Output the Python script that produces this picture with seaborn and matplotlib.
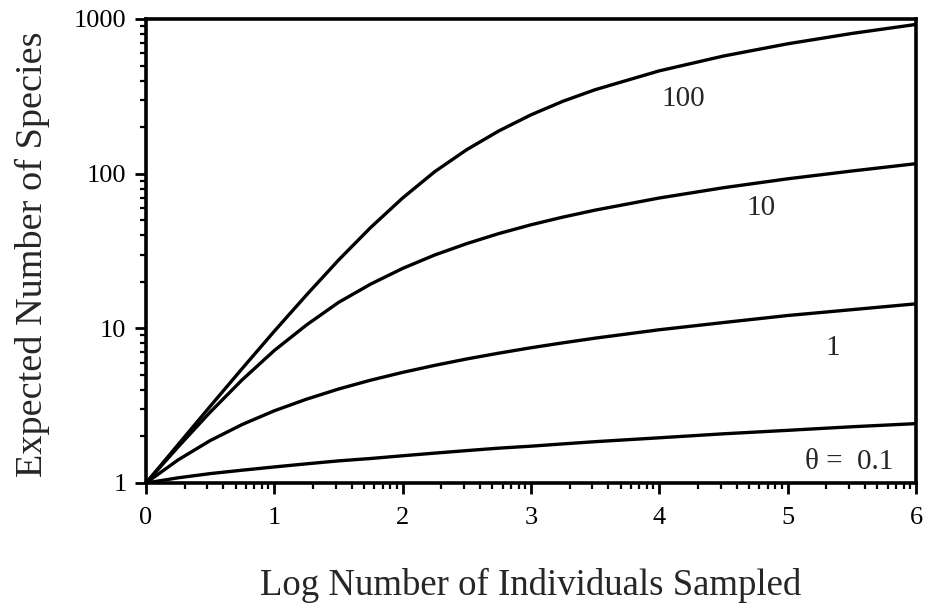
import numpy as np
import pandas as pd
import seaborn as sns
import matplotlib.pyplot as plt
from matplotlib.ticker import FixedLocator, FixedFormatter, LogLocator, NullFormatter

# values (x = log10 of individuals sampled)
log_n = [0, 0.25, 0.5, 0.75, 1, 1.25, 1.5, 1.75, 2, 2.25, 2.5, 2.75, 3, 3.25, 3.5,
         4, 4.5, 5, 5.5, 6]
theta_01 = [1.0, 1.08, 1.15, 1.21, 1.27, 1.33, 1.39, 1.44, 1.50, 1.56, 1.62, 1.68, 1.73,
            1.79, 1.85, 1.96, 2.08, 2.19, 2.31, 2.42]
theta_1 = [1.0, 1.41, 1.88, 2.39, 2.93, 3.48, 4.05, 4.62, 5.19, 5.76, 6.34, 6.91, 7.49,
           8.06, 8.64, 9.79, 10.9, 12.1, 13.2, 14.4]
theta_10 = [1.0, 1.71, 2.87, 4.65, 7.19, 10.5, 14.7, 19.3, 24.4, 29.8, 35.3, 41.0, 46.7,
            52.4, 58.1, 69.6, 81.1, 92.6, 104, 116]
theta_100 = [1.0, 1.77, 3.13, 5.50, 9.58, 16.4, 27.6, 44.8, 69.6, 103, 143, 189, 240,
             294, 349, 462, 576, 691, 806, 922]

theta_labels = ["0.1", "1", "10", "100"]
curve_labels = ["θ =  0.1", "1", "10", "100"]
label_pos = [(5.48, 1.37), (5.35, 7.46), (4.79, 60), (4.19, 303)]

series = [theta_01, theta_1, theta_10, theta_100]
df = pd.concat([pd.DataFrame({"x": log_n, "S": s, "theta": t})
                for s, t in zip(series, theta_labels)])

sns.set_style("ticks")
plt.rcParams["font.family"] = ["Liberation Serif", "DejaVu Serif"]

fig = plt.figure(figsize=(9.31, 6.08), dpi=100)
ax = fig.add_axes([0.1568, 0.2056, 0.8271, 0.7632])

sns.lineplot(data=df, x="x", y="S", hue="theta", palette=["black"] * 4,
             linewidth=2.4, legend=False, ax=ax)

ax.set_yscale("log")
ax.set_xlim(0, 6)
ax.set_ylim(1, 1000)

ax.set_xticks(range(7))
minor_x = [i + np.log10(k) for i in range(6) for k in range(2, 10)]
ax.xaxis.set_minor_locator(FixedLocator(minor_x))
ax.yaxis.set_major_locator(FixedLocator([1, 10, 100, 1000]))
ax.yaxis.set_major_formatter(FixedFormatter(["1", "10", "100", "1000"]))
ax.yaxis.set_minor_locator(LogLocator(base=10, subs=range(2, 10)))
ax.yaxis.set_minor_formatter(NullFormatter())

ax.tick_params(which="major", length=8, width=2, labelsize=19, direction="out",
               color="black", labelcolor="black", pad=6)
ax.tick_params(which="minor", length=4.5, width=1.6, direction="out", color="black")
ax.tick_params(axis="x", pad=9)

for sp in ax.spines.values():
    sp.set_visible(True)
    sp.set_linewidth(2.6)
    sp.set_color("black")

ax.set_xlabel("Log Number of Individuals Sampled", fontsize=26.5)
ax.set_ylabel("Expected Number of Species", fontsize=27.5)
ax.xaxis.set_label_coords(0.5, -0.183)
ax.yaxis.set_label_coords(-0.125, 0.4935)

for txt, (lx, ly) in zip(curve_labels, label_pos):
    ax.text(lx, ly, txt, fontsize=21, ha="center", va="center")

fig.savefig("out.png", dpi=100)
